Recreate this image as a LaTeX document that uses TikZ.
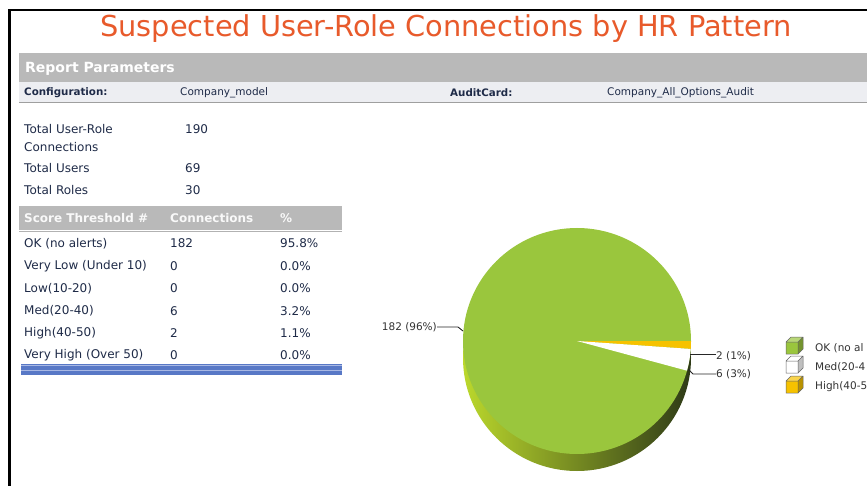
\documentclass[tikz,border=0pt]{standalone}
\usepackage{fontspec}
\setmainfont{DejaVu Sans}
\usepackage{tikz}
\usetikzlibrary{shapes,calc}
\definecolor{titleOr}{HTML}{E85A2B}
\definecolor{barG}{HTML}{B9B9B9}
\definecolor{rowG}{HTML}{EDEEF2}
\definecolor{navyT}{HTML}{1F2B48}
\definecolor{pieG}{HTML}{9AC63D}
\definecolor{pieY}{HTML}{F6C200}
\definecolor{sideL}{HTML}{BBD82C}
\definecolor{sideM}{HTML}{789A35}
\definecolor{sideD}{HTML}{2E3A17}
\definecolor{blueB}{HTML}{5878C6}
\definecolor{blueL}{HTML}{A8B8E4}
\tikzstyle{titleT}=[inner sep=0pt, text=titleOr, font=\fontsize{28.8}{32}\selectfont]
\tikzstyle{barT}=[anchor=west, inner sep=0pt, text=white, font=\fontsize{14}{16}\selectfont\bfseries]
\tikzstyle{keyT}=[anchor=west, inner sep=0pt, text=navyT, font=\fontsize{10.3}{12}\selectfont\bfseries]
\tikzstyle{valT}=[anchor=west, inner sep=0pt, text=navyT, font=\fontsize{10.5}{12}\selectfont]
\tikzstyle{cell}=[anchor=west, inner sep=0pt, text=navyT, font=\fontsize{12}{14}\selectfont]
\tikzstyle{headT}=[anchor=west, inner sep=0pt, text=white!95!gray, font=\fontsize{12}{14}\selectfont\bfseries]
\tikzstyle{pieL}=[inner sep=0pt, text=black!80, font=\fontsize{10.5}{12}\selectfont]
\tikzstyle{legT}=[anchor=west, inner sep=0pt, text=black!80, font=\fontsize{10.5}{12}\selectfont]
\tikzstyle{lead}=[line width=0.9pt, black!85]
\tikzstyle{frameL}=[line width=2.6pt, black]
\newcommand{\legcube}[3]{%
  \fill[#3] (#1,#2) rectangle ++(12,12);
  \fill[#3!70!white] (#1,#2) -- ++(5,-5) -- ++(12,0) -- ++(-5,5) -- cycle;
  \fill[#3!75!black] (#1+12,#2) -- ++(5,-5) -- ++(0,12) -- ++(-5,5) -- cycle;
  \draw[gray!80!black, line width=0.5pt] (#1,#2) rectangle ++(12,12)
    (#1,#2) -- ++(5,-5) -- ++(12,0) -- ++(0,12) -- ++(-5,5)
    (#1+12,#2) -- ++(5,-5);
}

\begin{document}
\begin{tikzpicture}[x=1pt, y=-1pt]
    \clip (0,0) rectangle (867,486);
    \fill[white] (0,0) rectangle (867,486);

    %%%%%  Marco y titulo  %%%%%
    \draw[frameL] (9.3,486) -- (9.3,10) -- (867,10);
    \node (title) [titleT] at (446,28.5) {Suspected User-Role Connections by HR Pattern};

    %%%%%  Report Parameters  %%%%%
    \fill[barG] (19,53) rectangle (867,82);
    \fill[rowG] (19,82) rectangle (867,102);
    \draw[gray!75, line width=1.3pt] (19,102.5) -- (867,102.5);
    \node (rp)   [barT] at (25,68.5) {Report Parameters};
    \node (cfg)  [keyT] at (24,93) {Configuration:};
    \node (cfgV) [valT] at (180,93) {Company\_model};
    \node (ac)   [keyT] at (450,93) {AuditCard:};
    \node (acV)  [valT] at (607,93) {Company\_All\_Options\_Audit};

    %%%%%  Totales  %%%%%
    \node (tur)  [cell] at (24,129) {Total User-Role};
    \node (turB) [cell] at (24,147) {Connections};
    \node (turV) [cell] at (185,129) {190};
    \node (tu)   [cell] at (24,168.5) {Total Users};
    \node (tuV)  [cell] at (185,168.5) {69};
    \node (tr)   [cell] at (24,190) {Total Roles};
    \node (trV)  [cell] at (185,190) {30};

    %%%%%  Tabla de umbrales  %%%%%
    \fill[barG] (19,206) rectangle (342,230);
    \draw[gray!60, line width=1pt] (19,231.5) -- (342,231.5);
    \node (h1) [headT] at (24,218.5) {Score Threshold \#};
    \node (h2) [headT] at (170,218.5) {Connections};
    \node (h3) [headT] at (280,218.5) {\%};
    \foreach \lab/\num/\pct [count=\i] in {OK (no alerts)/182/95.8,
        Very Low (Under 10)/0/0.0, Low(10-20)/0/0.0, Med(20-40)/6/3.2,
        High(40-50)/2/1.1, Very High (Over 50)/0/0.0}{
      \node (lab\i) [cell] at (24,{221.2+22.4*\i}) {\lab};
      \node (num\i) [cell] at (170,{221.2+22.4*\i}) {\num};
      \node (pct\i) [cell] at (280,{221.2+22.4*\i}) {\pct\%};
    }
    \fill[blueB] (21,364) rectangle (342,375);
    \draw[blueL, line width=1pt] (21,365) -- (342,365) (21,370) -- (342,370);

    %%%%%  Pastel  %%%%%
    \coordinate (pc) at (577,341);
    \shade[left color=sideL, middle color=sideM, right color=sideD]
      (577,358) ellipse [x radius=114, y radius=113];
    \fill[pieG] (pc) ellipse [x radius=114, y radius=113];
    \fill[pieY] (pc) -- ++(0:114) arc [start angle=0, end angle=4, x radius=114, y radius=113] -- cycle;
    \fill[white] (pc) -- ++(4:114) arc [start angle=4, end angle=15.2, x radius=114, y radius=113] -- cycle;

    %%%%%  Etiquetas  %%%%%
    \coordinate (e1) at (463,331);
    \coordinate (e2) at (690,354);
    \coordinate (e3) at (688,369);
    \node (l1) [pieL, anchor=east] at (437,327) {182 (96\%)};
    \node (l2) [pieL, anchor=west] at (716,356) {2 (1\%)};
    \node (l3) [pieL, anchor=west] at (716,374) {6 (3\%)};
    \draw[lead] (l1.east) -- ($(e1)+(-5,-4)$) -- (e1);
    \draw[lead] (e2) -- (e2 -| l2.west);
    \draw[lead] (e3) -- ($(e3)+(5,5)$) -- (l3.west);

    %%%%%  Leyenda  %%%%%
    \legcube{786}{342}{pieG}
    \legcube{786}{361}{white}
    \legcube{786}{381}{pieY}
    \node (g1) [legT] at (815,348) {OK (no al};
    \node (g2) [legT] at (815,367) {Med(20-4};
    \node (g3) [legT] at (815,387) {High(40-5};
\end{tikzpicture}
\end{document}
